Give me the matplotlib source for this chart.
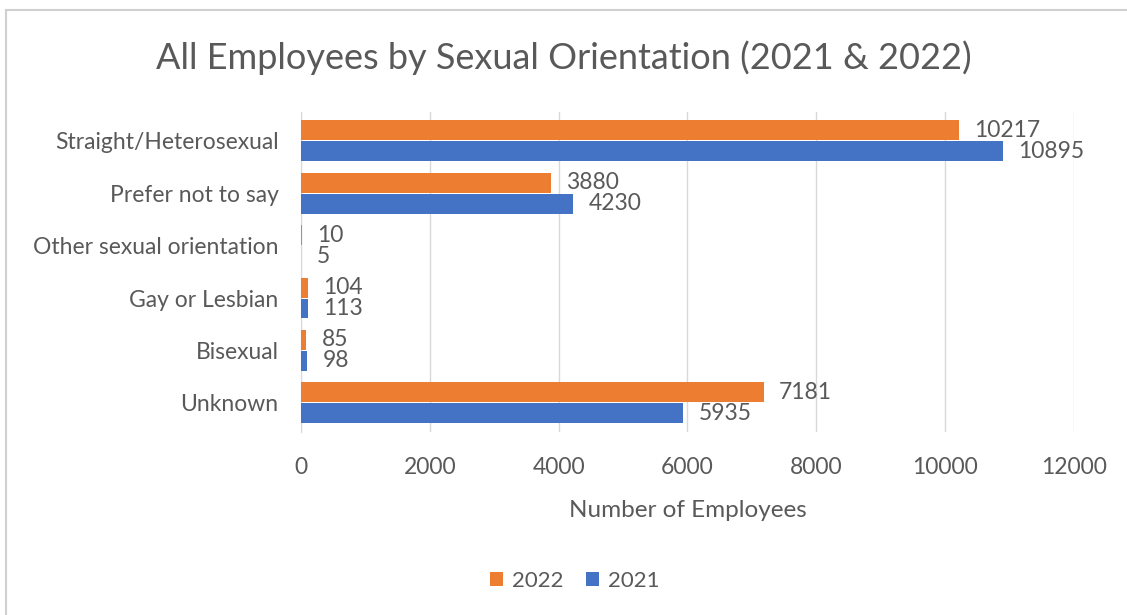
import numpy as np
import matplotlib.pyplot as plt
from matplotlib.patches import Rectangle

plt.rcParams['font.family'] = ['Lato', 'DejaVu Sans']

categories = ['Straight/Heterosexual', 'Prefer not to say', 'Other sexual orientation',
              'Gay or Lesbian', 'Bisexual', 'Unknown']
vals_2022 = [10217, 3880, 10, 104, 85, 7181]
vals_2021 = [10895, 4230, 5, 113, 98, 5935]
xticks = [0, 2000, 4000, 6000, 8000, 10000, 12000]

orange = '#ED7D31'
blue = '#4472C4'
txt = '#595959'

fig = plt.figure(figsize=(11.27, 6.15), dpi=100)
# chart border like the office chart frame
fig.patches.append(Rectangle((0.005, -0.1), 1.2, 1.083, transform=fig.transFigure,
                             fill=False, edgecolor='#d0d0d0', lw=1.5))
ax = fig.add_axes([0.267, 0.298, 0.686, 0.52])

y = np.arange(len(categories))
h = 0.38
ax.barh(y - 0.2, vals_2022, height=h, color=orange, label='2022', zorder=3)
ax.barh(y + 0.2, vals_2021, height=h, color=blue, label='2021', zorder=3)

for yi, v in zip(y, vals_2022):
    ax.annotate(str(v), (v, yi - 0.2), xytext=(11, 0), textcoords='offset points',
                va='center', ha='left', fontsize=16.5, color=txt)
for yi, v in zip(y, vals_2021):
    ax.annotate(str(v), (v, yi + 0.2), xytext=(11, 0), textcoords='offset points',
                va='center', ha='left', fontsize=16.5, color=txt)

ax.set_xlim(0, 12000)
ax.set_ylim(5.55, -0.55)
ax.set_xticks(xticks)
ax.set_xticklabels([str(t) for t in xticks])
ax.set_yticks(y)
ax.set_yticklabels(categories)
ax.tick_params(length=0, labelsize=16.5, colors=txt, pad=16)
ax.tick_params(axis='x', pad=18)
ax.grid(axis='x', color='#d9d9d9', lw=1, zorder=0)
for s in ['top', 'right', 'bottom']:
    ax.spines[s].set_visible(False)
ax.spines['left'].set_color('#d9d9d9')
ax.set_xlabel('Number of Employees', fontsize=17.5, color=txt, labelpad=16)

fig.suptitle('All Employees by Sexual Orientation (2021 & 2022)', fontsize=26,
             color=txt, y=0.935)

hnd, lab = ax.get_legend_handles_labels()
fig.legend(hnd, lab, loc='center', bbox_to_anchor=(0.51, 0.055), ncol=2, frameon=False,
           fontsize=16, labelcolor=txt, handlelength=0.6, handleheight=0.6,
           handletextpad=0.4, columnspacing=1.0)

fig.savefig('out.png', dpi=100)
